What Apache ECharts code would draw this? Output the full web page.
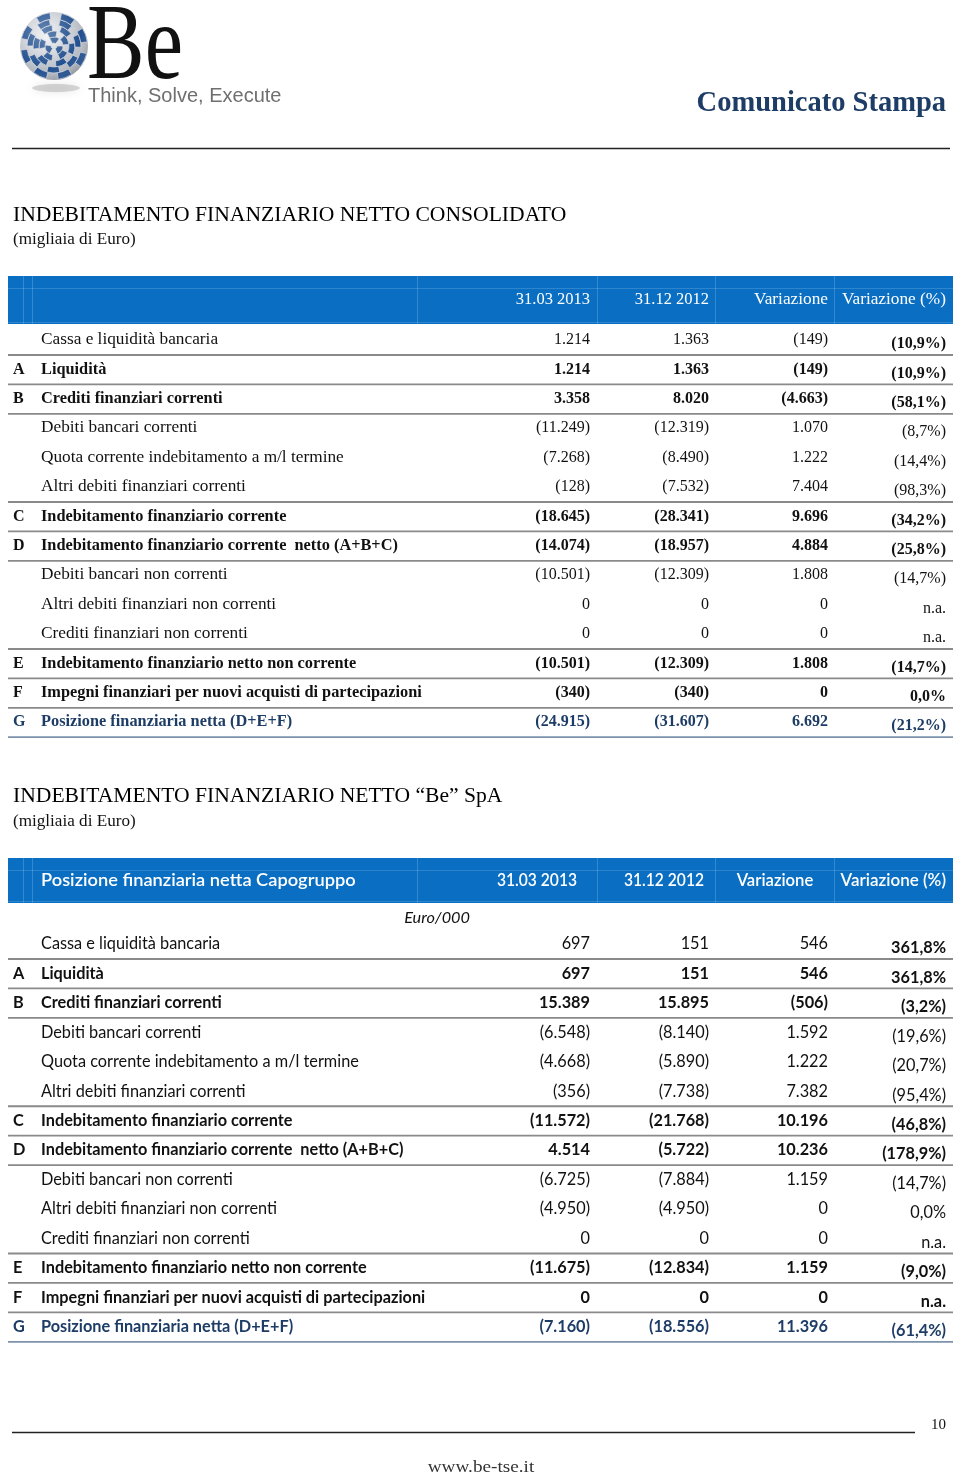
<!DOCTYPE html>
<html><head><meta charset="utf-8">
<script src="https://cdn.jsdelivr.net/npm/echarts@6/dist/echarts.min.js"></script>
<style>html,body{margin:0;padding:0;background:#fff}#c{width:960px;height:1480px}</style>
</head><body><div id="c"></div>
<script>
// ---------- DATA ----------
const rowLetters = ['', 'A', 'B', '', '', '', 'C', 'D', '', '', '', 'E', 'F', 'G'];
const rowLabels = ['Cassa e liquidità bancaria', 'Liquidità', 'Crediti finanziari correnti', 'Debiti bancari correnti',
  'Quota corrente indebitamento a m/l termine', 'Altri debiti finanziari correnti', 'Indebitamento finanziario corrente',
  'Indebitamento finanziario corrente  netto (A+B+C)', 'Debiti bancari non correnti', 'Altri debiti finanziari non correnti',
  'Crediti finanziari non correnti', 'Indebitamento finanziario netto non corrente',
  'Impegni finanziari per nuovi acquisti di partecipazioni', 'Posizione finanziaria netta (D+E+F)'];
const colHeaders = ['31.03 2013', '31.12 2012', 'Variazione', 'Variazione (%)'];

// Table 1: consolidato
const cons2013 = [1214, 1214, 3358, -11249, -7268, -128, -18645, -14074, -10501, 0, 0, -10501, -340, -24915];
const cons2012 = [1363, 1363, 8020, -12319, -8490, -7532, -28341, -18957, -12309, 0, 0, -12309, -340, -31607];
const consVar = [-149, -149, -4663, 1070, 1222, 7404, 9696, 4884, 1808, 0, 0, 1808, 0, 6692];
const consPct = [-10.9, -10.9, -58.1, -8.7, -14.4, -98.3, -34.2, -25.8, -14.7, null, null, -14.7, 0.0, -21.2];

// Table 2: Be SpA (Capogruppo)
const spa2013 = [697, 697, 15389, -6548, -4668, -356, -11572, 4514, -6725, -4950, 0, -11675, 0, -7160];
const spa2012 = [151, 151, 15895, -8140, -5890, -7738, -21768, -5722, -7884, -4950, 0, -12834, 0, -18556];
const spaVar = [546, 546, -506, 1592, 1222, 7382, 10196, 10236, 1159, 0, 0, 1159, 0, 11396];
const spaPct = [361.8, 361.8, -3.2, -19.6, -20.7, -95.4, -46.8, -178.9, -14.7, 0.0, null, -9.0, null, -61.4];

// ---------- FORMAT ----------
function fmtNum(v) {
  const s = Math.abs(v).toString().replace(/\B(?=(\d{3})+(?!\d))/g, '.');
  return v < 0 ? '(' + s + ')' : s;
}
function fmtPct(v) {
  if (v === null) return 'n.a.';
  const s = Math.abs(v).toFixed(1).replace('.', ',') + '%';
  return v < 0 ? '(' + s + ')' : s;
}

// ---------- LAYOUT ----------
const BLUE = '#0a6fc2', NAVY = '#1d3c66', GRID = '#8a8a8a';
const colRight = [590, 709, 828, 946];
const els = [];
function txt(text, x, y, font, fill, align, sx) {
  els.push({
    type: 'text', silent: true, x: x, y: y, scaleX: sx || 1,
    style: { text: text, x: 0, y: 0, font: font, fill: fill, align: align || 'left', verticalAlign: 'middle',
             textAlign: align || 'left', textVerticalAlign: 'middle' }
  });
}
function hline(x1, x2, y, color, w) {
  els.push({ type: 'line', silent: true, shape: { x1: x1, y1: y, x2: x2, y2: y }, style: { stroke: color, lineWidth: w } });
}
function vline(x, y1, y2, color, w) {
  els.push({ type: 'line', silent: true, shape: { x1: x, y1: y1, x2: x, y2: y2 }, style: { stroke: color, lineWidth: w } });
}

// ---------- LOGO ----------
const lcx = 54, lcy = 46, lr = 34;
els.push({ type: 'ellipse', silent: true, shape: { cx: 56, cy: 88, rx: 24, ry: 4 },
  style: { fill: 'rgba(130,130,130,0.3)', shadowBlur: 8, shadowColor: 'rgba(120,120,120,0.6)' } });
els.push({ type: 'circle', silent: true, shape: { cx: lcx, cy: lcy, r: lr },
  style: { fill: new echarts.graphic.RadialGradient(0.4, 0.35, 0.8, [
    { offset: 0, color: '#eceef2' }, { offset: 0.7, color: '#b3b8c0' }, { offset: 1, color: '#80868f' }]) } });
const rings = [[3, 9, 6], [9, 15, 10], [15, 21, 12], [21, 27, 14], [27, 33.5, 16]];
rings.forEach(function (rg, ri) {
  const n = rg[2];
  for (let k = 0; k < n; k += 2) {
    const a0 = (k / n) * Math.PI * 2 + ri * 0.45;
    els.push({ type: 'sector', silent: true,
      shape: { cx: lcx, cy: lcy, r0: rg[0], r: rg[1], startAngle: a0, endAngle: a0 + Math.PI * 2 / n * 1.1 },
      style: { fill: '#22508f', stroke: '#d5d9df', lineWidth: 0.7 } });
  }
});
els.push({ type: 'circle', silent: true, shape: { cx: lcx, cy: lcy, r: lr },
  style: { fill: new echarts.graphic.RadialGradient(0.35, 0.3, 0.9, [
    { offset: 0, color: 'rgba(255,255,255,0.3)' }, { offset: 0.6, color: 'rgba(255,255,255,0)' }, { offset: 1, color: 'rgba(30,30,50,0.3)' }]) } });
txt('Be', 87, 50, '108px "Liberation Serif"', '#111', 'left', 0.8);
txt('Think, Solve, Execute', 88, 96, '20px "Liberation Sans"', '#6f6f6f', 'left');

// ---------- PAGE HEADER ----------
txt('Comunicato Stampa', 946, 104, 'bold 28.5px "Liberation Serif"', NAVY, 'right');
hline(12, 950, 148.5, '#222', 1.5);

// ---------- TABLE BUILDER ----------
function buildTable(opt) {
  const top = opt.headerTop, bot = opt.headerBottom;
  els.push({ type: 'rect', silent: true, shape: { x: 8, y: top, width: 945, height: bot - top }, style: { fill: BLUE } });
  [23, 32, 417, 597, 715, 834].forEach(function (x) { vline(x + 0.5, top, bot, 'rgba(150,200,240,0.3)', 1); });
  hline(8, 953, top + 12.5, 'rgba(150,200,240,0.25)', 1);
  hline(8, 953, bot - 1.5, 'rgba(150,200,240,0.25)', 1);
  const hy = (top + bot) / 2;
  if (opt.headerLabel) txt(opt.headerLabel, 41, hy, opt.headerLabelFont, '#fff', 'left', 1.015);
  colHeaders.forEach(function (h, i) {
    if (opt.headerCenters && i < 3) txt(h, opt.headerCenters[i], hy, opt.headerFont, '#fff', 'center', opt.headerScale[i]);
    else txt(h, colRight[i], hy, opt.headerFont, '#fff', 'right', opt.headerScale[i]);
  });
  const cols = [opt.c1, opt.c2, opt.c3];
  rowLabels.forEach(function (lab, i) {
    const y = opt.firstRow + i * opt.pitch;
    const bold = rowLetters[i] !== '';
    const last = i === rowLabels.length - 1;
    const color = last ? NAVY : '#111';
    const f = (bold ? 'bold ' : '') + opt.size + 'px ' + opt.family;
    const lsx = bold ? opt.boldScale : opt.regScale;
    if (rowLetters[i]) txt(rowLetters[i], 13, y, f, color, 'left');
    txt(lab, 41, y, f, color, 'left', lsx);
    cols.forEach(function (arr, c) { txt(fmtNum(arr[i]), colRight[c], y, f, color, 'right', opt.numScale); });
    const pb = bold || i === 0;
    const pf = (pb ? 'bold ' : '') + opt.size + 'px ' + opt.family;
    txt(fmtPct(opt.pct[i]), colRight[3], y + 4, pf, color, 'right', opt.numScale);
    const nextBold = i + 1 < rowLetters.length && rowLetters[i + 1] !== '';
    if (bold || nextBold) hline(8, 953, y + 15, last ? '#7d93ad' : GRID, 1.8);
  });
}

// ---------- TABLE 1 ----------
txt('INDEBITAMENTO FINANZIARIO NETTO CONSOLIDATO', 13, 216, '20px "Liberation Serif"', '#000', 'left', 1.08);
txt('(migliaia di Euro)', 13, 240, '16px "Liberation Serif"', '#111', 'left', 1.07);
buildTable({ headerTop: 276, headerBottom: 324, headerFont: '16px "Liberation Serif"', headerScale: [1.03, 1.03, 1.08, 1.08],
  family: '"Liberation Serif"', size: 16, regScale: 1.08, boldScale: 1.02, numScale: 1.0,
  firstRow: 340, pitch: 29.4, c1: cons2013, c2: cons2012, c3: consVar, pct: consPct });

// ---------- TABLE 2 ----------
txt('INDEBITAMENTO FINANZIARIO NETTO \u201CBe\u201D SpA', 13, 797, '20px "Liberation Serif"', '#000', 'left', 1.08);
txt('(migliaia di Euro)', 13, 822, '16px "Liberation Serif"', '#111', 'left', 1.07);
buildTable({ headerTop: 858, headerBottom: 903, headerLabel: 'Posizione finanziaria netta Capogruppo',
  headerLabelFont: '600 18px Lato', headerFont: '600 17px Lato', headerCenters: [537, 664, 775], headerScale: [0.92, 0.92, 0.98, 1],
  family: 'Lato', size: 16.3, regScale: 1, boldScale: 1, numScale: 1,
  firstRow: 944, pitch: 29.45, c1: spa2013, c2: spa2012, c3: spaVar, pct: spaPct });
txt('Euro/000', 470, 918, 'italic 16.3px Lato', '#111', 'right');

// ---------- FOOTER ----------
txt('10', 946, 1425, '15px "Liberation Serif"', '#111', 'right');
hline(12, 915, 1432.5, '#222', 1.5);
txt('www.be-tse.it', 481, 1468, '17px "Liberation Serif"', '#333', 'center', 1.13);

const chart = echarts.init(document.getElementById('c'), null, { renderer: 'canvas', width: 960, height: 1480 });
chart.setOption({ backgroundColor: '#ffffff', animation: false, graphic: { elements: els } });
</script></body></html>
